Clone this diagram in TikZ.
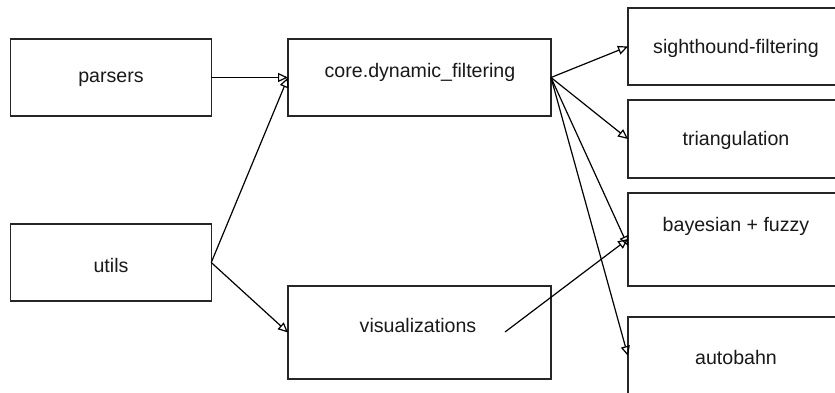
\documentclass[tikz,border=0pt]{standalone}
\usepackage{fontspec}
\setmainfont{Liberation Sans}
\usetikzlibrary{arrows.meta}
\begin{document}
\begin{tikzpicture}[x=1pt,y=-1pt,
  box/.style={draw=black!85, line width=1.3pt, inner sep=0pt, outer sep=0pt, rectangle},
  lbl/.style={font=\fontsize{19.6}{22}\selectfont, text=black!90, inner sep=0pt},
  link/.style={draw=black, line width=1.2pt, -{Triangle[open, length=10pt, width=9pt]}}]
\useasboundingbox (0,0) rectangle (835,392);
\clip (0,0) rectangle (835,392);
\fill[white] (0,0) rectangle (835,392);

% left column
\node[box, minimum width=200.5, minimum height=77] (parsers) at (111,77.5) {};
\node[box, minimum width=200.5, minimum height=77] (utils) at (111,262.5) {};
% middle column
\node[box, minimum width=263, minimum height=77] (core) at (419.5,77.5) {};
\node[box, minimum width=263, minimum height=93] (vis) at (419.5,332.5) {};
% right column
\node[box, minimum width=216, minimum height=77] (sight) at (736,46.5) {};
\node[box, minimum width=216, minimum height=78] (tri) at (736,139) {};
\node[box, minimum width=216, minimum height=93] (bay) at (736,239.5) {};
\node[box, minimum width=216, minimum height=78] (auto) at (736,356) {};

% labels
\node[lbl] (tparsers) at (111,79) {parsers};
\node[lbl] (tutils) at (111,265) {utils};
\node[lbl] (tcore) at (420,72) {core.dynamic\_filtering};
\node[lbl] (tvis) at (418,325) {visualizations};
\node[lbl] (tsight) at (736,48) {sighthound-filtering};
\node[lbl] (ttri) at (736,140) {triangulation};
\node[lbl] (tbay) at (736,226) {bayesian + fuzzy};
\node[lbl] (tauto) at (736,357) {autobahn};

% connector end points
\coordinate (visout) at (505,332);
\coordinate (bayin1) at ([yshift=-6.5]bay.west);
\coordinate (bayin2) at ([yshift=0.5]bay.west);

% connectors
\draw[link] (parsers.east) -- (core.west);
\draw[link] (utils.east) -- (core.west);
\draw[link] (utils.east) -- (vis.west);
\draw[link] (core.east) -- (sight.west);
\draw[link] (core.east) -- (tri.west);
\draw[link] (core.east) -- (bayin1);
\draw[link] (core.east) -- (auto.west);
\draw[link] (visout) -- (bayin2);
\end{tikzpicture}
\end{document}
